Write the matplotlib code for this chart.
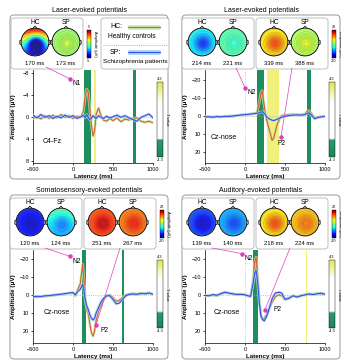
import matplotlib.pyplot as plt
import matplotlib.patheffects as pe
import numpy as np
from matplotlib.patches import FancyBboxPatch, Circle, Polygon, ConnectionPatch
from matplotlib.colors import LinearSegmentedColormap, Normalize

plt.rcParams['font.family'] = ['Liberation Sans', 'DejaVu Sans']

# ---- waveform data (latency in ms, amplitude in uV) ----
lep_c4_t = [-500, -450, -400, -350, -300, -250, -200, -150, -100, -50, 0, 50, 100, 130, 150, 170, 190, 210,
            230, 250, 270, 290, 320, 350, 380, 420, 460, 500, 550, 600, 650, 700, 750, 800, 850, 900, 950, 1000]
lep_c4_hc = [0.3, 0.0, 0.4, -0.2, 0.3, -0.3, 0.2, -0.4, 0.1, -0.2, 0.3, -0.1, 0.0, -1.0, -3.5, -5.0, -4.5, -1.5,
             1.5, 3.5, 2.5, -0.5, -1.6, -0.2, 0.6, 0.8, 0.3, 0.7, 0.2, 0.9, 0.4, 0.6, 0.3, 0.2, 0.8, 1.0, 0.8, 1.1]
lep_c4_sp = [-0.3, 0.2, -0.4, 0.1, -0.2, 0.3, -0.1, 0.2, -0.3, 0.1, -0.2, 0.3, 0.0, -0.3, 0.2, -0.4, 0.1, 0.5,
             0.3, -0.2, 0.1, 0.3, -0.2, 0.1, 0.3, -0.1, 0.2, 0.0, -0.3, 0.1, -0.2, 0.2, 0.5, 0.8, 0.1, -0.2, -0.5, 0.2]

lep_cz_t = [-500, -450, -400, -350, -300, -250, -200, -150, -100, -50, 0, 50, 100, 150, 180, 200, 214, 230,
            250, 270, 300, 339, 360, 400, 450, 500, 550, 600, 650, 700, 750, 780, 800, 830, 870, 900, 950, 1000]
lep_cz_hc = [0.5, 0.8, 0.3, 0.6, 0.2, 0.5, -0.2, 0.3, -0.3, -0.5, -0.8, -1.0, -1.2, -2.0, -8.0, -12.5, -14.0, -9.0,
             -3.0, 2.0, 7.0, 13.5, 12.0, 5.0, 0.0, -0.5, -0.8, -1.0, -0.5, -0.8, -1.2, -2.8, -3.0, -1.5, 1.2, 0.5, 0.2, 0.0]
lep_cz_sp = [0.5, 0.3, 0.7, 0.2, 0.5, 0.1, 0.3, -0.1, -0.3, -0.6, -0.8, -1.0, -1.3, -1.5, -1.8, -2.2, -2.5, -2.0,
             -1.0, 0.5, 1.5, 2.3, 2.5, 1.8, 0.8, 0.2, -0.3, -0.5, -0.7, -0.5, -0.8, -1.5, -1.8, -0.5, 1.5, 1.0, 0.5, 0.2]

sep_t = [-500, -450, -400, -350, -300, -250, -200, -150, -100, -50, 0, 30, 60, 90, 110, 120, 135, 150, 170, 190,
         210, 230, 251, 270, 290, 320, 350, 380, 420, 460, 500, 540, 580, 620, 660, 700, 750, 800, 850, 900, 950, 1000]
sep_hc = [1.5, 1.2, 1.0, 0.8, 0.5, 0.3, 0.0, -0.3, -0.6, -1.0, -1.2, 0.5, -3.0, -6.0, -13.0, -17.0, -10.0, 0.0, 8.0, 10.0,
          16.0, 21.0, 23.0, 20.0, 14.0, 9.0, 6.0, 3.0, 0.5, 0.0, 1.5, 3.5, 3.0, 1.5, 0.0, -0.5, -0.8, -0.5, -1.0, -0.8, -1.2, -0.5]
sep_sp = [1.0, 0.8, 0.9, 0.5, 0.4, 0.1, -0.1, -0.4, -0.7, -1.0, -1.3, 0.0, -2.0, -3.0, -5.0, -6.0, -3.0, 2.0, 6.0, 8.0,
          11.0, 13.0, 14.0, 13.0, 10.0, 7.0, 4.0, 2.0, 0.5, 0.5, 2.5, 5.0, 4.5, 2.5, 0.5, -0.2, -0.5, -0.3, -0.8, -0.6, -1.0, -0.3]

aep_t = [-500, -450, -400, -350, -300, -250, -200, -150, -100, -50, 0, 40, 70, 100, 120, 139, 160, 180, 200,
         218, 240, 270, 300, 340, 380, 420, 460, 500, 550, 600, 650, 700, 750, 800, 850, 900, 950, 1000]
aep_hc = [0.5, 0.3, 0.2, 0.5, -0.5, -1.2, -0.8, -0.5, -0.3, -0.4, -0.2, 0.8, 1.0, -8.0, -18.0, -21.0, -10.0, 4.0, 11.0,
          14.0, 13.0, 11.0, 8.0, 4.0, 1.0, 0.0, 0.5, 2.5, 1.5, 0.5, 1.0, 0.3, 0.0, -0.5, -0.3, -0.8, -0.5, -0.3]
aep_sp = [0.3, 0.5, -0.2, 0.2, -0.8, -1.5, -1.0, -0.6, -0.2, -0.3, 0.0, 0.5, 0.8, -6.0, -12.0, -13.5, -6.0, 5.0, 12.0,
          13.5, 14.5, 12.0, 8.0, 2.0, -1.0, -1.5, -1.0, 2.5, 2.0, 0.5, 1.2, 0.5, 0.0, -0.5, -0.2, -0.6, -1.0, -0.4]

# ---- topography data ----
lep_c4_topo_lat = ['170 ms', '173 ms']
lep_c4_topo_center = [-6.0, 0.8]
lep_c4_topo_edge = [0.5, 0.3]
lep_c4_topo_slope = [4.5, 0.0]

lep_cz_topo_lat = ['214 ms', '221 ms', '339 ms', '388 ms']
lep_cz_topo_center = [-14, -4, 14, 5]
lep_cz_topo_edge = [-5, -2, 6, 2]
lep_cz_topo_slope = [0, 0, 0, 0]

sep_topo_lat = ['120 ms', '124 ms', '251 ms', '267 ms']
sep_topo_center = [-18, -10, 18, 16]
sep_topo_edge = [-14, -5, 13, 11]
sep_topo_slope = [0, 3, 0, 0]

aep_topo_lat = ['139 ms', '140 ms', '218 ms', '224 ms']
aep_topo_center = [-18, -13, 14, 12]
aep_topo_edge = [-12, -8, 6, 8]
aep_topo_slope = [0, 0, 0, 0]

W, H = 341, 360
fig = plt.figure(figsize=(W / 100, H / 100), dpi=100)


def px_axes(x, y, w, h, **kw):
    return fig.add_axes([x / W, 1 - (y + h) / H, w / W, h / H], **kw)


bg = px_axes(0, 0, W, H, zorder=-1)
bg.set_xlim(0, W)
bg.set_ylim(H, 0)
bg.axis('off')

HC_COL = '#e2582a'
SP_COL = '#3550dc'
GREEN = '#1f8e5e'
YELLOW = '#f0f07a'
MAGENTA = '#e03cc4'

tcmap = LinearSegmentedColormap.from_list('tval', [(0, '#17855a'), (0.22, '#2a9a6a'), (0.25, 'white'),
                                                  (0.72, 'white'), (0.85, '#f2f5b0'), (1, '#dbe65a')])

panels = [
    dict(origin=(0, 0), title='Laser-evoked potentials', t=lep_c4_t, hc=lep_c4_hc, sp=lep_c4_sp,
         ylim=(8.4, -8.5), yticks=[-8, -4, 0, 4, 8], channel='C4-Fz', chan_xy=(-260, 4.5),
         green=[(140, 230), (755, 785)], yellow=[(262, 283)],
         lat=lep_c4_topo_lat, center=lep_c4_topo_center, edge=lep_c4_topo_edge, slope=lep_c4_topo_slope, vmax=5,
         marks=[('N1', (46, 67), (-40, -6.9), (2, -1), 'left', 'top')], tbar=(82, 75)),
    dict(origin=(172, 0), title='Laser-evoked potentials', t=lep_cz_t, hc=lep_cz_hc, sp=lep_cz_sp,
         ylim=(26, -25.5), yticks=[-20, -10, 0, 10, 20], channel='Cz-nose', chan_xy=(-265, 12),
         green=[(151, 240), (778, 820)], yellow=[(277, 430)],
         lat=lep_cz_topo_lat, center=lep_cz_topo_center, edge=lep_cz_topo_edge, slope=lep_cz_topo_slope, vmax=20,
         marks=[('N2', (64, 68), (0, -15.8), (2, -1), 'left', 'top'),
                ('P2', (120, 68), (450, 11.7), (0, -2), 'center', 'top')], tbar=(82, 75)),
    dict(origin=(0, 180), title='Somatosensory-evoked potentials', t=sep_t, hc=sep_hc, sp=sep_sp,
         ylim=(26.8, -25), yticks=[-20, -10, 0, 10, 20], channel='Cz-nose', chan_xy=(-205, 9.8),
         green=[(108, 158), (612, 640)], yellow=[],
         lat=sep_topo_lat, center=sep_topo_center, edge=sep_topo_edge, slope=sep_topo_slope, vmax=20,
         marks=[('N2', (45, 68), (-40, -21.5), (2, -1), 'left', 'top'),
                ('P2', (120, 68), (290, 16.5), (3, -2), 'left', 'top')], tbar=(80, 68)),
    dict(origin=(172, 180), title='Auditory-evoked potentials', t=aep_t, hc=aep_hc, sp=aep_sp,
         ylim=(26.8, -25), yticks=[-20, -10, 0, 10, 20], channel='Cz-nose', chan_xy=(-230, 9.6),
         green=[(105, 168)], yellow=[(757, 773)],
         lat=aep_topo_lat, center=aep_topo_center, edge=aep_topo_edge, slope=aep_topo_slope, vmax=20,
         marks=[('N2', (40, 68), (-40, -23), (2, -1), 'left', 'top'),
                ('P2', (118, 68), (250, 8.3), (6, 0), 'left', 'center')], tbar=(80, 68)),
]

gx, gy = np.meshgrid(np.linspace(-1, 1, 80), np.linspace(-1, 1, 80))


def draw_head(cx, cy, cval, eval_, slope, vmax):
    ax = px_axes(cx - 17, cy - 17, 34, 34)
    ax.set_xlim(-1.22, 1.22)
    ax.set_ylim(-1.22, 1.22)
    ax.axis('off')
    g = np.exp(-((gx - 0.08) ** 2 + (gy + 0.1) ** 2) / (2 * 0.42 ** 2))
    z = eval_ + (cval - eval_) * g + slope * gy
    z = np.ma.masked_where(gx ** 2 + gy ** 2 > 1, z)
    head = Circle((0, 0), 1, transform=ax.transData, fc='none', ec='k', lw=0.6, zorder=4)
    im = ax.imshow(z, extent=(-1, 1, -1, 1), origin='lower', cmap='jet', vmin=-vmax, vmax=vmax,
                   interpolation='bilinear', alpha=0.88)
    im.set_clip_path(head)
    ax.contour(gx, gy, z, levels=9, colors='k', linewidths=0.15, alpha=0.5)
    ax.add_patch(head)
    ax.add_patch(Polygon([[-0.14, 0.99], [0, 1.15], [0.14, 0.99]], closed=False, fc='none', ec='k', lw=0.5))
    for s in (-1, 1):
        ax.add_patch(Polygon([[s * 0.99, 0.15], [s * 1.09, 0.1], [s * 1.09, -0.15], [s * 0.99, -0.2]],
                             closed=False, fc='none', ec='k', lw=0.5))
    return ax


for p in panels:
    ox, oy = p['origin']
    fig.text((ox + 89) / W, 1 - (oy + 10) / H, p['title'], ha='center', va='center', fontsize=5)
    bg.add_patch(FancyBboxPatch((ox + 10, oy + 15), 158, 164, boxstyle='round,pad=0,rounding_size=4',
                                fc='none', ec='#9a9a9a', lw=0.7))

    # topography boxes and heads
    nheads = len(p['lat'])
    if nheads == 2:
        boxes = [(ox + 11, 72)]
        heads_x = [ox + 35, ox + 66]
        cbx = ox + 87
    else:
        boxes = [(ox + 10, 72), (ox + 84, 72)]
        heads_x = [ox + 30, ox + 61, ox + 102, ox + 133]
        cbx = ox + 160
    for bx, bw in boxes:
        bg.add_patch(FancyBboxPatch((bx, oy + 18), bw, 51, boxstyle='round,pad=0,rounding_size=3',
                                    fc='white', ec='#b4b4b4', lw=0.6))
    for i in range(nheads):
        hx = heads_x[i]
        draw_head(hx, oy + 42, p['center'][i], p['edge'][i], p['slope'][i], p['vmax'])
        fig.text(hx / W, 1 - (oy + 22) / H, 'HC' if i % 2 == 0 else 'SP', ha='center', va='center', fontsize=4.8)
        fig.text(hx / W, 1 - (oy + 63.5) / H, p['lat'][i], ha='center', va='center', fontsize=4.2)

    cax = px_axes(cbx, oy + 30, 4, 28)
    cb = fig.colorbar(plt.cm.ScalarMappable(norm=Normalize(-p['vmax'], p['vmax']), cmap='jet'), cax=cax, ticks=[])
    cb.outline.set_linewidth(0.3)
    fig.text((cbx + 2) / W, 1 - (oy + 26.5) / H, str(p['vmax']), ha='center', va='center', fontsize=2.8)
    fig.text((cbx + 2) / W, 1 - (oy + 61.5) / H, str(-p['vmax']), ha='center', va='center', fontsize=2.8)
    fig.text((cbx + 8) / W, 1 - (oy + 44) / H, 'Amplitude (μV)', ha='center', va='center', fontsize=2.8,
             rotation=270)

    # main waveform axes
    ax = px_axes(ox + 33, oy + 70, 120, 93)
    ax.set_facecolor('none')
    for a, b in p['green']:
        ax.axvspan(a, b, color=GREEN, lw=0, zorder=1)
    for a, b in p['yellow']:
        ax.axvspan(a, b, color=YELLOW, lw=0, zorder=1)
    ax.axvline(0, color='#a8bccb', ls=':', lw=0.6, zorder=2)
    ax.axhline(0, color='#aaaaaa', ls=':', lw=0.6, zorder=2)
    ax.plot(p['t'], p['hc'], color=HC_COL, lw=0.8, zorder=4,
            path_effects=[pe.Stroke(linewidth=2.0, foreground='#bfe8a8', alpha=0.8), pe.Normal()])
    ax.plot(p['t'], p['sp'], color=SP_COL, lw=0.8, zorder=5,
            path_effects=[pe.Stroke(linewidth=2.0, foreground='#a8d4f4', alpha=0.8), pe.Normal()])
    ax.set_xlim(-500, 1000)
    ax.set_ylim(*p['ylim'])
    ax.set_xticks([-500, 0, 500, 1000])
    ax.set_yticks(p['yticks'])
    ax.tick_params(labelsize=4, length=1.5, width=0.5, pad=1.5)
    for s in ('top', 'right'):
        ax.spines[s].set_visible(False)
    for s in ('left', 'bottom'):
        ax.spines[s].set_linewidth(0.5)
    ax.set_xlabel('Latency (ms)', fontsize=4.5, fontweight='bold', labelpad=1.5)
    ax.set_ylabel('Amplitude (μV)', fontsize=4.5, fontweight='bold')
    ax.yaxis.set_label_coords(-0.14, 0.5)
    ax.text(p['chan_xy'][0], p['chan_xy'][1], p['channel'], fontsize=5, ha='center', va='center')

    # peak annotations linking topographies to waveforms
    for name, start, pt, off, ha, va in p['marks']:
        con = ConnectionPatch(xyA=(ox + start[0], oy + start[1]), coordsA=bg.transData, xyB=pt, coordsB=ax.transData,
                              color=MAGENTA, lw=0.5, zorder=6)
        fig.add_artist(con)
        ax.plot(*pt, 'o', color=MAGENTA, ms=2.2, zorder=7, clip_on=False)
        ax.annotate(name, pt, xytext=off, textcoords='offset points', fontsize=4.8, ha=ha, va=va, zorder=7)

    # T value colorbar
    ty, th = p['tbar']
    tax = px_axes(ox + 157, oy + ty, 6, th)
    tb = fig.colorbar(plt.cm.ScalarMappable(norm=Normalize(-4.3, 4.3), cmap=tcmap), cax=tax, ticks=[])
    tb.outline.set_linewidth(0.3)
    fig.text((ox + 160) / W, 1 - (oy + ty - 3) / H, '4.3', ha='center', va='center', fontsize=2.8)
    fig.text((ox + 160) / W, 1 - (oy + ty + th + 3) / H, '-4.3', ha='center', va='center', fontsize=2.8)
    fig.text((ox + 167) / W, 1 - (oy + ty + th / 2) / H, 'T value', ha='center', va='center', fontsize=2.8,
             rotation=270)

# legend box of the first panel
bg.add_patch(FancyBboxPatch((101, 18), 68, 51, boxstyle='round,pad=0,rounding_size=3',
                            fc='white', ec='#b4b4b4', lw=0.6))
bg.text(110, 27, 'HC:', fontsize=5, va='center')
bg.plot([128, 160], [27, 27], color='#c4ecb0', lw=3.5, solid_capstyle='butt')
bg.plot([128, 160], [27, 27], color=HC_COL, lw=0.8)
bg.text(108, 37, 'Healthy controls', fontsize=4.8, va='center')
bg.plot([103, 168], [45, 45], color='#999999', lw=0.5, ls=(0, (1.5, 1.5)))
bg.text(110, 52, 'SP:', fontsize=5, va='center')
bg.plot([128, 160], [52, 52], color='#a8d4f4', lw=3.5, solid_capstyle='butt')
bg.plot([128, 160], [52, 52], color=SP_COL, lw=0.8)
bg.text(103, 62, 'Schizophrenia patients', fontsize=4.6, va='center')

fig.savefig('out.png', dpi=100)
